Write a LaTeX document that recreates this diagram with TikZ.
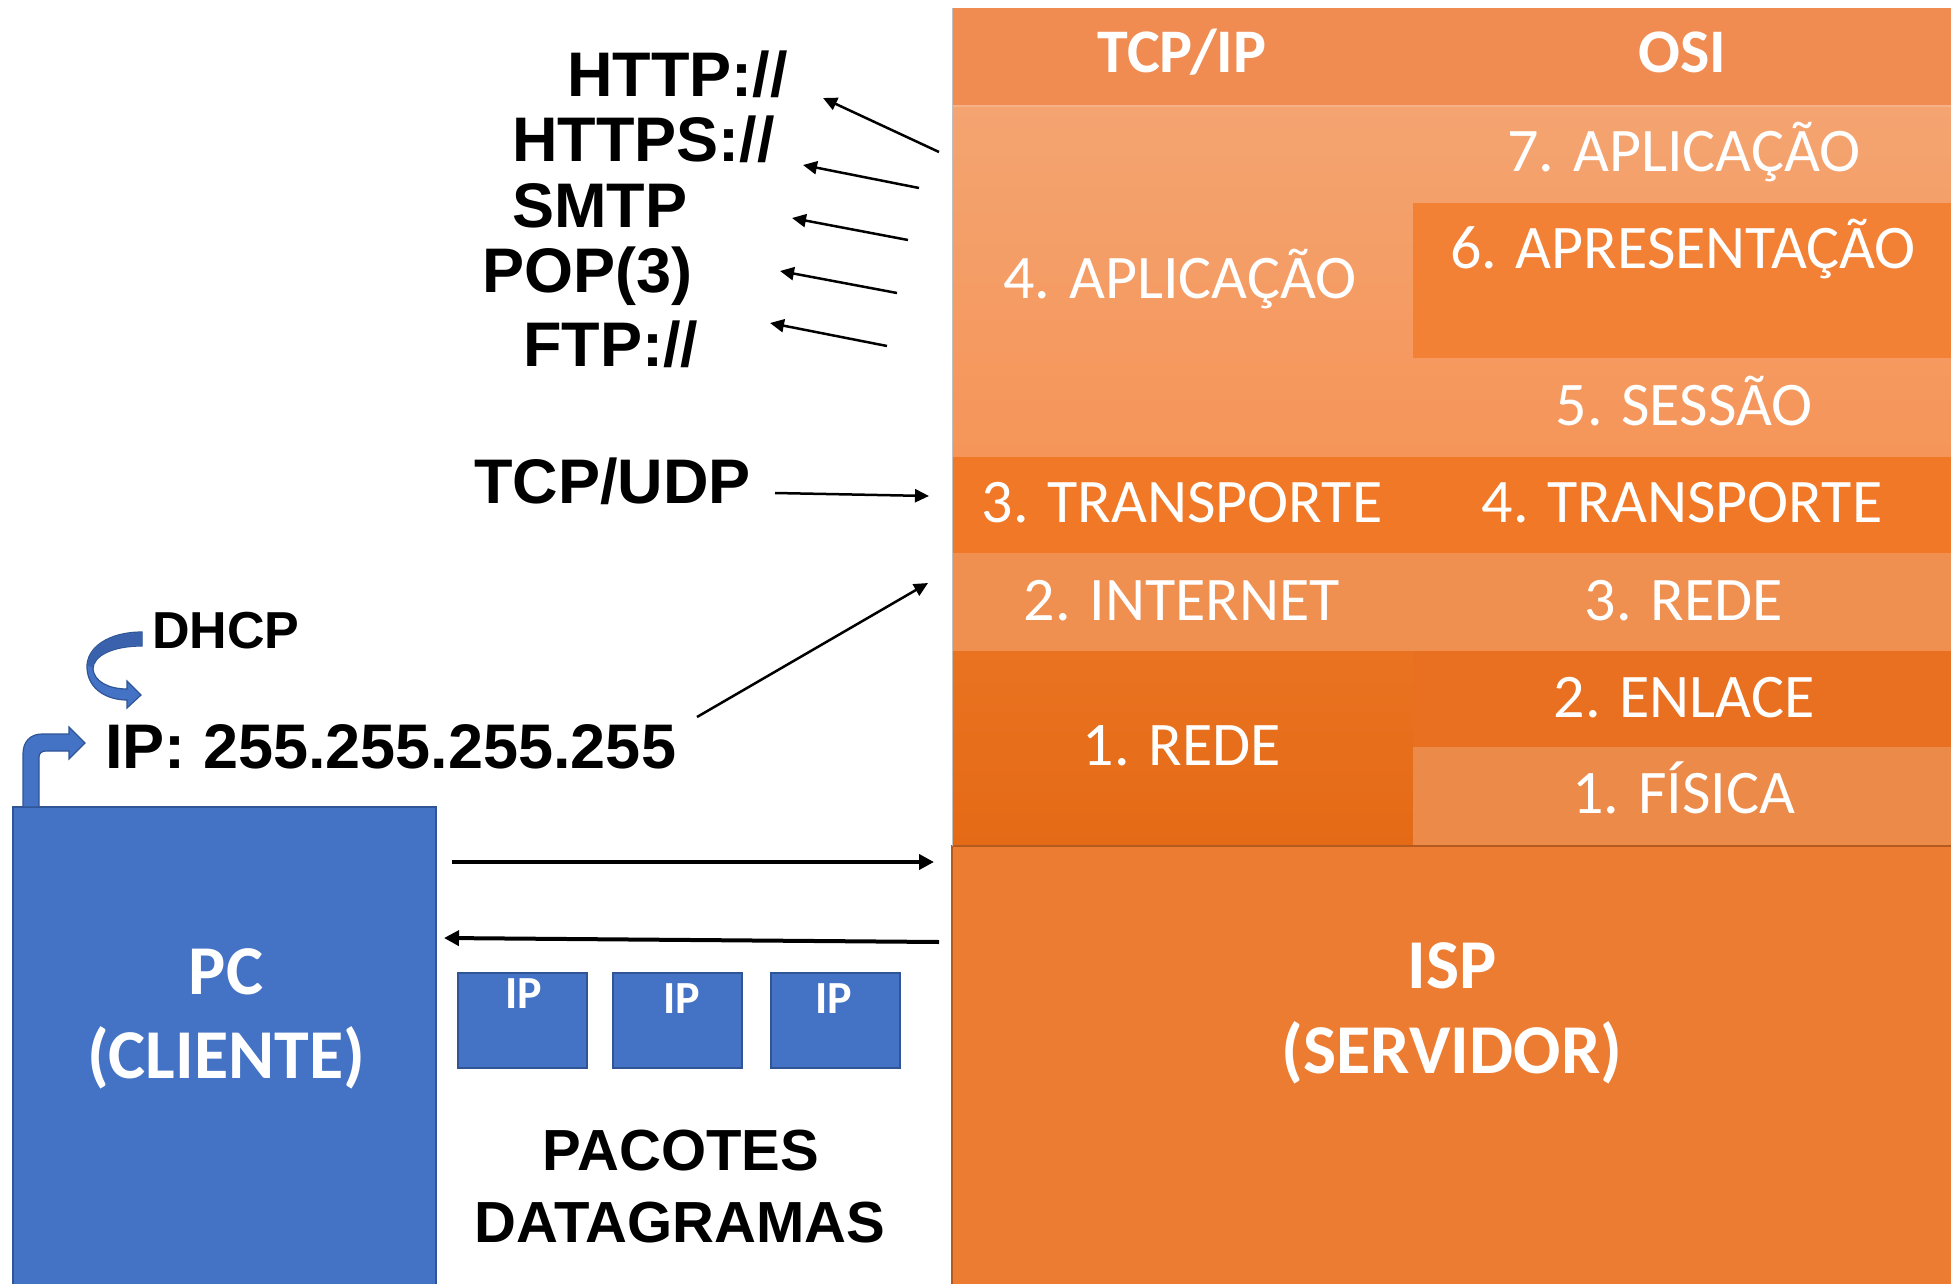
\documentclass[tikz,border=0pt]{standalone}
\usepackage{fontspec}
\setmainfont{Liberation Sans}
\newfontfamily\calfont{Carlito}
\usetikzlibrary{arrows.meta}
\definecolor{hdr}{HTML}{F08B52}
\definecolor{apptop}{HTML}{F4A471}
\definecolor{appbot}{HTML}{F59559}
\definecolor{pres}{HTML}{F28135}
\definecolor{trans}{HTML}{F07827}
\definecolor{inet}{HTML}{EF8F50}
\definecolor{redetop}{HTML}{E97321}
\definecolor{redebot}{HTML}{E56A16}
\definecolor{enl}{HTML}{E97020}
\definecolor{fis}{HTML}{EC8A4A}
\definecolor{isp}{HTML}{EB7C31}
\definecolor{ispedge}{HTML}{B45A1E}
\definecolor{sep}{HTML}{F7B088}
\definecolor{blu}{HTML}{4472C4}
\definecolor{bluedge}{HTML}{2F5597}
\definecolor{bludark}{HTML}{3A62AC}
\begin{document}
\begin{tikzpicture}[x=1pt,y=-1pt,
  cell/.style={draw=none,inner sep=0pt,outer sep=0pt,anchor=north west},
  lay/.style={text=white,font=\calfont\fontsize{62}{62}\selectfont,anchor=base,inner sep=0pt},
  layb/.style={text=white,font=\calfont\bfseries\fontsize{62}{62}\selectfont,anchor=base,inner sep=0pt},
  big/.style={text=white,font=\calfont\bfseries\fontsize{70}{70}\selectfont,anchor=base,inner sep=0pt},
  lbl/.style={text=black,font=\bfseries\fontsize{63}{63}\selectfont,anchor=base west,inner sep=0pt},
  pkt/.style={cell,fill=blu,draw=bluedge,line width=1.5pt,minimum width=129pt,minimum height=95pt},
  pkttxt/.style={text=white,font=\calfont\bfseries\fontsize{46}{46}\selectfont,anchor=base,inner sep=0pt},
  pactxt/.style={text=black,font=\bfseries\fontsize{58}{58}\selectfont,anchor=base,inner sep=0pt},
  arr/.style={line width=2.5pt,-{Triangle[length=14pt,width=13pt]}},
  bigarr/.style={line width=4pt,-{Triangle[length=15pt,width=15pt]}}
]
\useasboundingbox (0,0) rectangle (1951,1284);
\fill[white] (0,0) rectangle (1951,1284);

% ---- table ----
\node[cell,fill=hdr,minimum width=999pt,minimum height=98pt] (hdr) at (952,8) {};
\node[cell,top color=apptop,bottom color=appbot,minimum width=999pt,minimum height=351pt] (app) at (952,106) {};
\node[cell,fill=pres,minimum width=538pt,minimum height=155pt] (pres) at (1413,203) {};
\draw[sep,line width=2pt] (hdr.south west) -- (hdr.south east);
\node[cell,fill=trans,minimum width=999pt,minimum height=96pt] (trans) at (952,457) {};
\node[cell,fill=inet,minimum width=999pt,minimum height=98pt] (inet) at (952,553) {};
\node[cell,top color=redetop,bottom color=redebot,minimum width=461pt,minimum height=194pt] (rede) at (952,651) {};
\node[cell,fill=enl,minimum width=538pt,minimum height=96pt] (enl) at (1413,651) {};
\node[cell,fill=fis,minimum width=538pt,minimum height=98pt] (fis) at (1413,747) {};
\node[cell,fill=isp,draw=ispedge,line width=1.5pt,minimum width=1000pt,minimum height=440pt] (isp) at (952,846) {};
\draw[line width=1pt,black!25] (hdr.north west) -- (isp.north west);

\node[layb] (tTCP) at (1182,73) {TCP/IP};
\node[layb] (tOSI) at (1682,73) {OSI};
\node[lay] (t7) at (1684,172) {7. APLICAÇÃO};
\node[lay] (t6) at (1683,268) {6. APRESENTAÇÃO};
\node[lay] (t5) at (1684,425) {5. SESSÃO};
\node[lay] (t4a) at (1180,298) {4. APLICAÇÃO};
\node[lay] (t3t) at (1182,522) {3. TRANSPORTE};
\node[lay] (t4t) at (1682,522) {4. TRANSPORTE};
\node[lay] (t2i) at (1182,620) {2. INTERNET};
\node[lay] (t3r) at (1684,620) {3. REDE};
\node[lay] (t1r) at (1182,765) {1. REDE};
\node[lay] (t2e) at (1684,717) {2. ENLACE};
\node[lay] (t1f) at (1684,813) {1. FÍSICA};
\node[big] (ispA) at (1452,988) {ISP};
\node[big] (ispB) at (1452,1073) {(SERVIDOR)};

% ---- PC ----
\node[cell,fill=blu,draw=bluedge,line width=1.5pt,minimum width=423pt,minimum height=480pt] (pc) at (13,807) {};
\node[big] (pcA) at (226,994) {PC};
\node[big] (pcB) at (226,1078) {(CLIENTE)};

% ---- packets ----
\node[pkt] (p1) at (458,973) {};
\node[pkt] (p2) at (613,973) {};
\node[pkt] (p3) at (771,973) {};
\node[pkttxt] (p1t) at (524,1008) {IP};
\node[pkttxt] (p2t) at (682,1013) {IP};
\node[pkttxt] (p3t) at (834,1013) {IP};
\node[pactxt] (pac) at (681,1170) {PACOTES};
\node[pactxt] (dat) at (680,1242) {DATAGRAMAS};

% ---- protocol labels ----
\node[lbl] (http) at (567,97) {HTTP://};
\node[lbl] (https) at (512,162) {HTTPS://};
\node[lbl] (smtp) at (512,227) {SMTP};
\node[lbl] (pop) at (482,292) {POP(3)};
\node[lbl] (ftp) at (523,366) {FTP://};
\node[lbl] (tcpudp) at (474,503) {TCP/UDP};
\node[lbl] (ip) at (105,768) {IP: 255.255.255.255};
\node[lbl,font=\bfseries\fontsize{52}{52}\selectfont] (dhcp) at (152,648) {DHCP};

% ---- arrows ----
\coordinate (a1s) at (939,152); \coordinate (a1e) at (823,98);
\coordinate (a2s) at (919,188); \coordinate (a2e) at (803,165);
\coordinate (a3s) at (908,240); \coordinate (a3e) at (792,218);
\coordinate (a4s) at (897,293); \coordinate (a4e) at (780,271);
\coordinate (a5s) at (887,346); \coordinate (a5e) at (770,323);
\draw[arr] (a1s) -- (a1e);
\draw[arr] (a2s) -- (a2e);
\draw[arr] (a3s) -- (a3e);
\draw[arr] (a4s) -- (a4e);
\draw[arr] (a5s) -- (a5e);
\coordinate (tus) at (775,493); \coordinate (tue) at (929,496);
\draw[arr] (tus) -- (tue);
\coordinate (ips) at (697,717); \coordinate (ipe) at (928,583);
\draw[arr] (ips) -- (ipe);
\coordinate (r1s) at (452,862); \coordinate (r1e) at (934,862);
\draw[bigarr] (r1s) -- (r1e);
\coordinate (l1s) at (939,942); \coordinate (l1e) at (444,938);
\draw[bigarr] (l1s) -- (l1e);

% ---- bent arrow from PC ----
\filldraw[fill=blu,draw=bluedge,line width=1.2pt]
  (23,807) -- (23,754) .. controls (23,742) and (30,734) .. (42,734) -- (69,734)
  -- (69,727) -- (85,743) -- (69,759) -- (69,751) -- (46,751)
  .. controls (42,751) and (39,753) .. (39,757) -- (39,807) -- cycle;

% ---- DHCP curved arrow ----
\filldraw[fill=blu,draw=bluedge,line width=1.2pt]
  (142,632) .. controls (108,632) and (86,648) .. (87,668)
  .. controls (88,690) and (108,700) .. (127,700) -- (127,708) -- (141,695) -- (127,681) -- (127,689)
  .. controls (108,689) and (94,681) .. (93,669)
  .. controls (93,656) and (112,646) .. (142,646) -- cycle;
\fill[bludark] (142,633) .. controls (108,633) and (87,648) .. (88,666)
  -- (93,667) .. controls (94,656) and (112,645) .. (142,645) -- cycle;
\end{tikzpicture}
\end{document}
